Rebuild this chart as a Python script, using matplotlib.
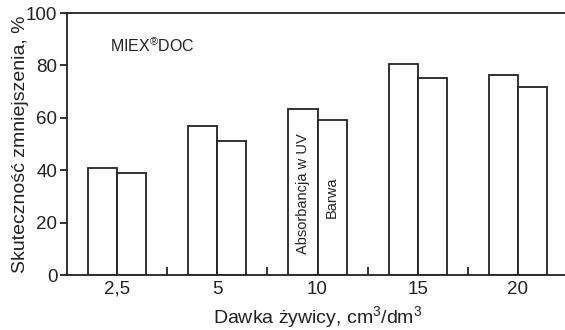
import numpy as np
import matplotlib
matplotlib.use('Agg')
import matplotlib.pyplot as plt

plt.rcParams['font.family'] = ['Liberation Sans', 'DejaVu Sans']
plt.rcParams['mathtext.fontset'] = 'custom'
plt.rcParams['mathtext.rm'] = 'Liberation Sans'

# dawki zywicy i skutecznosc zmniejszenia (%)
doses = ['2,5', '5', '10', '15', '20']
uv_abs = [40.8, 56.8, 63.2, 80.4, 76.3]
colour = [39.0, 51.0, 59.2, 75.3, 71.6]
series_names = ['Absorbancja w UV', 'Barwa']

BAR_W = 0.29
LINE = '#222222'

fig = plt.figure(figsize=(5.65, 3.30), dpi=100)
ax = fig.add_axes([67 / 565, 55 / 330, 501 / 565, 262 / 330])

x = np.arange(len(doses))
ax.bar(x - BAR_W / 2, uv_abs, BAR_W, color='white', edgecolor=LINE, linewidth=1.3)
ax.bar(x + BAR_W / 2, colour, BAR_W, color='white', edgecolor=LINE, linewidth=1.3)

# opisy serii wpisane w slupki dla dawki 10
ax.text(x[2] - BAR_W / 2, 31, series_names[0], rotation=90, ha='center', va='center', fontsize=10.5, color=LINE)
ax.text(x[2] + BAR_W / 2, 29.8, series_names[1], rotation=90, ha='center', va='center', fontsize=10.5, color=LINE)

ax.text(0.085, 0.877, 'MIEX$^{\\circledR}$DOC', transform=ax.transAxes, fontsize=11.5, color=LINE, va='center')

ax.set_xlim(-0.5, 4.5)
ax.set_ylim(0, 100)
ax.set_xticks(x)
ax.set_xticklabels(doses)
ax.set_xticks(x[:-1] + 0.5, minor=True)
ax.set_yticks([0, 20, 40, 60, 80, 100])
ax.tick_params(axis='x', which='major', length=0, pad=4, labelsize=13.5, colors=LINE)
ax.tick_params(axis='x', which='minor', direction='in', length=6, width=1.3, color=LINE)
ax.tick_params(axis='y', direction='out', length=5, width=1.3, pad=2, labelsize=13.5, colors=LINE)

ax.spines['right'].set_visible(False)
for s in ['left', 'bottom', 'top']:
    ax.spines[s].set_linewidth(1.3)
    ax.spines[s].set_color(LINE)

ax.set_xlabel('Dawka żywicy, cm$^3$/dm$^3$', fontsize=14, color=LINE, labelpad=5)
ax.set_ylabel('Skuteczność zmniejszenia, %', fontsize=14, color=LINE, labelpad=-2.5)

fig.savefig('out.png', dpi=100)
